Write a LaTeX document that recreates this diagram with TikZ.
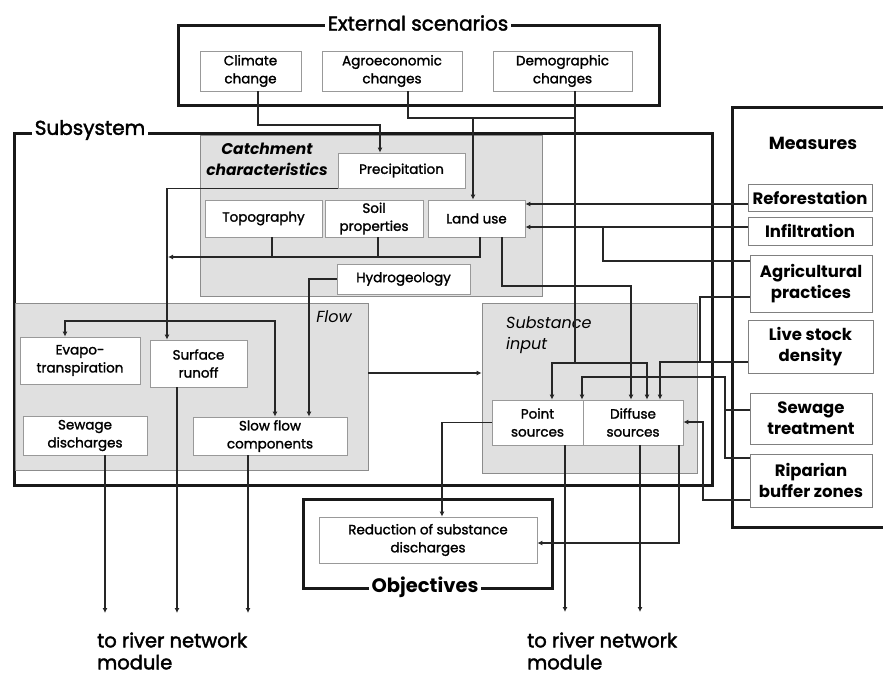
\documentclass[tikz,border=0pt]{standalone}
\usepackage{fontspec}
\setmainfont{Poppins}
\newfontfamily\heavyfont{Poppins}[FakeBold=1.6]
\newfontfamily\titlefont{Poppins}[FakeBold=2]
\usetikzlibrary{arrows.meta}
\begin{document}
\begin{tikzpicture}[x=1pt,y=-1pt,
  conn/.style={line width=1.7pt, draw=black!85, -{Latex[length=5pt,width=5pt]}},
  wire/.style={line width=1.7pt, draw=black!85},
  frame/.style={line width=3pt, draw=black!90},
  zone/.style={draw=black!45, fill=black!12, line width=0.8pt, inner sep=0pt},
  cbox/.style={draw=black!40, fill=white, line width=0.8pt, align=center, inner sep=1pt,
    font=\heavyfont\fontsize{13.5}{18}\selectfont},
  mbox/.style={draw=black!50, fill=white, line width=1pt, align=center, inner sep=1pt,
    font=\bfseries\fontsize{16.5}{21}\selectfont},
  title/.style={fill=white, inner sep=3pt, font=\titlefont\fontsize{20}{22}\selectfont},
  zlabel/.style={align=center, inner sep=0pt, font=\itshape\fontsize{16}{21}\selectfont},
  river/.style={align=left, anchor=west, inner sep=0pt, font=\titlefont\fontsize{19.5}{22}\selectfont}
]
\fill[white] (0,0) rectangle (883,675);
\useasboundingbox (0,0) rectangle (883,675);

% ---- external scenarios ----
\draw[frame] (178,25) rectangle (659,105);
\node[title] (ext) at (418,23) {External scenarios};
\node[cbox, minimum width=101pt, minimum height=40pt] (clim) at (250.5,71) {Climate\\change};
\node[cbox, minimum width=140pt, minimum height=40pt] (agro) at (392,71) {Agroeconomic\\changes};
\node[cbox, minimum width=139pt, minimum height=40pt] (demo) at (562.5,71) {Demographic\\changes};

% ---- subsystem ----
\draw[frame] (14,133) rectangle (712,485);
\node[title] (subsys) at (90,130) {Subsystem};

% catchment characteristics
\node[zone, minimum width=342pt, minimum height=161pt] (catch) at (371,215.5) {};
\node[zlabel, font=\bfseries\itshape\fontsize{15.5}{21}\selectfont] (catchlbl) at (267,159) {Catchment\\characteristics};
\node[cbox, minimum width=127pt, minimum height=35pt] (prec) at (401.5,170.5) {Precipitation};
\node[cbox, minimum width=117pt, minimum height=37pt] (topo) at (263.5,218.5) {Topography};
\node[cbox, minimum width=98pt, minimum height=37pt] (soil) at (374,218.5) {Soil\\properties};
\node[cbox, minimum width=97pt, minimum height=37pt] (land) at (476.5,218.5) {Land use};
\node[cbox, minimum width=133pt, minimum height=30pt] (hydro) at (403.5,279) {Hydrogeology};

% flow
\node[zone, minimum width=353pt, minimum height=167pt] (flow) at (191.5,386.5) {};
\node[zlabel] (flowlbl) at (334,317) {Flow};
\node[cbox, minimum width=120pt, minimum height=47pt] (evap) at (80,360.5) {Evapo-\\transpiration};
\node[cbox, minimum width=97pt, minimum height=47pt] (surf) at (198.5,363.5) {Surface\\runoff};
\node[cbox, minimum width=124pt, minimum height=39pt] (sewd) at (85,435.5) {Sewage\\discharges};
\node[cbox, minimum width=154pt, minimum height=38pt] (slow) at (270,436) {Slow flow\\components};

% substance input
\node[zone, minimum width=215pt, minimum height=170pt] (subs) at (589.5,388) {};
\node[zlabel, align=left, anchor=north west] (subslbl) at (506,316) {Substance\\input};
\node[cbox, minimum width=91pt, minimum height=45pt] (point) at (537.5,422.5) {Point\\sources};
\node[cbox, minimum width=100pt, minimum height=45pt] (diff) at (633,422.5) {Diffuse\\sources};

% ---- objectives ----
\draw[frame] (303,499) rectangle (552,588);
\node[title, font=\bfseries\fontsize{19.5}{22}\selectfont] (obj) at (425,587) {Objectives};
\node[cbox, minimum width=218pt, minimum height=46pt] (red) at (428,540) {Reduction of substance\\discharges};

% ---- measures ----
\draw[frame] (883,107) -- (732,107) -- (732,527) -- (883,527);
\node[inner sep=0pt, font=\bfseries\fontsize{17.5}{20}\selectfont] (meas) at (813,143) {Measures};
\node[mbox, minimum width=124pt, minimum height=27pt] (refo) at (810,198) {Reforestation};
\node[mbox, minimum width=124pt, minimum height=28pt] (infi) at (810,231) {Infiltration};
\node[mbox, minimum width=122pt, minimum height=57pt] (agri) at (811,283.5) {Agricultural\\practices};
\node[mbox, minimum width=125pt, minimum height=53pt] (live) at (810.5,346.5) {Live stock\\density};
\node[mbox, minimum width=122pt, minimum height=51pt] (sewt) at (811,418.5) {Sewage\\treatment};
\node[mbox, minimum width=122pt, minimum height=53pt] (ripa) at (811,480.5) {Riparian\\buffer zones};

% ---- outlets ----
\node[river] (riv1) at (97,651) {to river network\\module};
\node[river] (riv2) at (527,651) {to river network\\module};
\coordinate (o1) at (105,613);
\coordinate (o2) at (177,613);
\coordinate (o3) at (248,613);
\coordinate (o4) at (565,612);
\coordinate (o5) at (640,612);

% ---- connectors ----
% scenarios
\draw[conn] (clim.south -| 258,0) |- (380,125) -- (prec.north -| 380,0);
\draw[wire] (agro.south -| 408,0) |- (575,118);
\draw[conn] (473,118) -- (land.north -| 473,0);
\draw[wire] (demo.south -| 575,0) -- (575,363);
\draw[conn] (575,363) -| (point.north -| 552,0);
\draw[conn] (575,363) -| (diff.north -| 647,0);
% catchment to flow
\draw[wire] (topo.south -| 272,0) -- (272,257);
\draw[wire] (soil.south -| 378,0) -- (378,257);
\draw[conn] (land.south -| 480,0) |- (168,257);
\draw[conn] (prec.south west) -| (surf.north -| 167,0);
\draw[conn] (167,321) -| (evap.north -| 65,0);
\draw[conn] (167,321) -| (slow.north -| 275,0);
\draw[conn] (hydro.west) -| (slow.north -| 309,0);
\draw[conn] (land.south -| 502,0) |- (631,286) -- (diff.north -| 631,0);
\draw[conn] (flow.east |- 0,373) -- (subs.west |- 0,373);
% flow outlets
\draw[conn] (sewd.south -| o1) -- (o1);
\draw[conn] (surf.south -| o2) -- (o2);
\draw[conn] (slow.south -| o3) -- (o3);
% substance outlets
\draw[conn] (point.west) -| (red.north -| 442,0);
\draw[conn] (point.south -| o4) -- (o4);
\draw[conn] (diff.south -| o5) -- (o5);
\draw[conn] (diff.south -| 679,0) |- (red.east |- 0,543);
% measures
\draw[conn] (refo.west |- 0,204) -- (land.east |- 0,204);
\draw[conn] (infi.west |- 0,227) -- (land.east |- 0,227);
\draw[wire] (agri.west |- 0,261) -| (603,227);
\draw[wire] (agri.west |- 0,297) -| (700,362);
\draw[conn] (live.west |- 0,362) -| (diff.north -| 660,0);
\draw[wire] (sewt.west |- 0,410) -- (725,410);
\draw[conn] (ripa.west |- 0,458) -| (725,377) -| (diff.north -| 582,0);
\draw[conn] (ripa.west |- 0,500) -| (703,422) -- (diff.east |- 0,422);
\end{tikzpicture}
\end{document}
